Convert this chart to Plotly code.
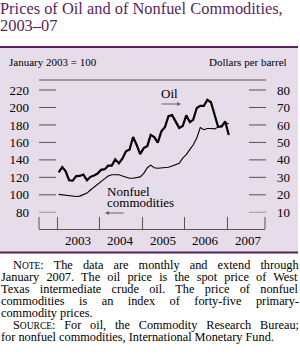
import plotly.graph_objects as go

# ---------------- data ----------------
years = [2003, 2004, 2005, 2006, 2007]
months = [(2003 + i // 12, i % 12 + 1) for i in range(49)]  # Jan 2003 .. Jan 2007

oil_dollars = [32.9, 35.9, 33.6, 28.3, 28.1, 30.7, 30.8, 31.6, 28.3, 30.3, 31.1, 32.2,
               34.3, 34.7, 36.7, 36.7, 40.3, 38.0, 40.7, 44.9, 45.9, 53.1, 48.5, 43.3,
               46.8, 48.0, 54.3, 53.0, 49.8, 56.3, 58.7, 65.0, 65.6, 62.4, 58.3, 59.4,
               65.5, 61.6, 62.9, 69.7, 70.9, 70.9, 74.4, 73.0, 65.0, 58.9, 59.1, 62.0,
               54.2]

nonfuel_index = [100.5, 100, 99.5, 99, 98, 98, 98.5, 100, 102, 105.5, 109, 112,
                 115, 118.5, 121.5, 123, 123, 123, 121.5, 120, 119, 119, 119.5, 120.5,
                 124.5, 131, 134, 131, 130.5, 131, 131, 131.5, 133, 134.5, 136, 142,
                 146, 152, 157, 165, 177, 174.5, 176, 176, 175.5, 177.5, 179.5, 183,
                 181]

left_ticks = [80, 100, 120, 140, 160, 180, 200, 220]
right_ticks = [10, 20, 30, 40, 50, 60, 70, 80]

title_lines = ["Prices of Oil and of Nonfuel Commodities,", "2003–07"]
# (small-cap lead, rest of line, indented, justified)
note_lines = [
    ("NOTE", ": The data are monthly and extend through", True, True),
    ("", "January 2007. The oil price is the spot price of West", False, True),
    ("", "Texas intermediate crude oil. The price of nonfuel", False, True),
    ("", "commodities is an index of forty-five primary-", False, True),
    ("", "commodity prices.", False, False),
    ("SOURCE", ": For oil, the Commodity Research Bureau;", True, True),
    ("", "for nonfuel commodities, International Monetary Fund.", False, False),
]

# ---------------- layout helpers ----------------
W, H = 300, 361
def px(x):
    return x / W
def py(y):
    return 1 - y / H

PURPLE = "#5a1f5e"
LAV = "#e6dcea"
SERIF = "Liberation Serif"

# Times metrics (per 1000 em) for estimating justification spacing
TW = {' ': 250, ',': 250, '-': 333, '.': 250, ':': 278, ';': 278, '(': 333, ')': 333}
for c in '0123456789':
    TW[c] = 500
TW.update(dict(A=722, B=667, C=667, D=722, E=611, F=556, G=722, H=722, I=333, J=389, K=722,
               L=611, M=889, N=722, O=722, P=556, Q=722, R=667, S=556, T=611, U=722, V=722,
               W=944, X=722, Y=722, Z=611))
TW.update(dict(a=444, b=500, c=444, d=500, e=444, f=333, g=500, h=500, i=278, j=278, k=500,
               l=278, m=778, n=500, o=500, p=500, q=500, r=333, s=389, t=278, u=500, v=500,
               w=722, x=500, y=500, z=444))

def text_w(s, size):
    return sum(TW.get(c, 500) for c in s) * size / 1000.0

NOTE_SIZE = 12.3
SC_SIZE = 9.5

dates = [f"{y}-{m:02d}-15" for (y, m) in months]

fig = go.Figure()
fig.add_trace(go.Scatter(x=dates, y=nonfuel_index, mode="lines",
                         line=dict(color="black", width=1.1), yaxis="y", showlegend=False))
fig.add_trace(go.Scatter(x=dates, y=oil_dollars, mode="lines",
                         line=dict(color="black", width=2.2), yaxis="y2", showlegend=False))

shapes = []
shapes.append(dict(type="rect", xref="paper", yref="paper", x0=px(0), x1=px(298),
                   y0=py(252), y1=py(47.5), fillcolor=LAV, line=dict(width=0), layer="below"))
shapes.append(dict(type="line", xref="paper", yref="paper", x0=px(0), x1=px(298),
                   y0=py(47), y1=py(47), line=dict(color=PURPLE, width=2)))
shapes.append(dict(type="line", xref="paper", yref="paper", x0=px(0), x1=px(298),
                   y0=py(252.5), y1=py(252.5), line=dict(color=PURPLE, width=2)))
shapes.append(dict(type="line", xref="paper", yref="paper", x0=px(39), x1=px(266),
                   y0=py(80), y1=py(80), line=dict(color="#555555", width=1)))
for v in left_ticks:
    shapes.append(dict(type="line", xref="paper", yref="y", x0=px(39), x1=px(56),
                       y0=v, y1=v, line=dict(color="#9a9a9a" if v == left_ticks[0] else "#555555", width=1)))
for v in right_ticks:
    shapes.append(dict(type="line", xref="paper", yref="y2", x0=px(249), x1=px(266),
                       y0=v, y1=v, line=dict(color="#9a9a9a" if v == right_ticks[0] else "#555555", width=1)))
for xe in [39, 265]:
    shapes.append(dict(type="line", xref="paper", yref="paper", x0=px(xe), x1=px(xe),
                       y0=py(229), y1=py(217), line=dict(color="#555555", width=1)))

ann = []
for i, t in enumerate(title_lines):
    ann.append(dict(text=t, x=px(-1), y=py(8 + 17 * i), xref="paper", yref="paper",
                    xanchor="left", yanchor="middle", showarrow=False, borderpad=0,
                    font=dict(family=SERIF, size=16.4, color=PURPLE)))
ann.append(dict(text="January 2003 = 100", x=px(7), y=py(62), xref="paper", yref="paper",
                xanchor="left", yanchor="middle", showarrow=False,
                font=dict(family=SERIF, size=11, color="black")))
ann.append(dict(text="Dollars per barrel", x=px(289), y=py(62), xref="paper", yref="paper",
                xanchor="right", yanchor="middle", showarrow=False,
                font=dict(family=SERIF, size=11, color="black")))
for yr in years:
    ann.append(dict(text=str(yr), x=f"{yr}-07-02", y=py(241), xref="x", yref="paper",
                    xanchor="center", yanchor="middle", showarrow=False,
                    font=dict(family=SERIF, size=13, color="black")))
ann.append(dict(text="Oil", x=px(159), y=py(94), xref="paper", yref="paper",
                xanchor="left", yanchor="middle", showarrow=False,
                font=dict(family=SERIF, size=13, color="black")))
ann.append(dict(text="", x=px(181), y=py(104), xref="paper", yref="paper",
                showarrow=True, ax=-21, ay=0, arrowhead=2, arrowsize=0.8, arrowwidth=1,
                arrowcolor="#666666"))
for j, t in enumerate(["Nonfuel", "commodities"]):
    ann.append(dict(text=t, x=px(106), y=py(191.5 + 11 * j), xref="paper", yref="paper",
                    xanchor="left", yanchor="middle", showarrow=False, borderpad=0,
                    font=dict(family=SERIF, size=13, color="black")))
ann.append(dict(text="", x=px(105), y=py(213), xref="paper", yref="paper",
                showarrow=True, ax=20, ay=0, arrowhead=2, arrowsize=0.8, arrowwidth=1,
                arrowcolor="#666666"))

for i, (sc, rest, indent, just) in enumerate(note_lines):
    x0 = 12 if indent else 0
    if sc:
        lead = sc[0] + f"<span style='font-size:{SC_SIZE}px'>{sc[1:]}</span>"
        w = text_w(sc[0], NOTE_SIZE) + text_w(sc[1:].upper(), SC_SIZE) + text_w(rest, NOTE_SIZE)
    else:
        lead = ""
        w = text_w(rest, NOTE_SIZE)
    body = lead + rest
    if just:
        nsp = (sc + rest).count(" ")
        extra = max(0.0, (298 - x0 - w) / nsp)
        body = f"<span style='word-spacing:{extra:.2f}px'>" + body.replace(
            f"<span style='font-size:{SC_SIZE}px'>", f"<span style='font-size:{SC_SIZE}px;word-spacing:{extra:.2f}px'>") + "</span>"
    ann.append(dict(text=body, x=px(x0), y=py(265 + i * 12.05),
                    xref="paper", yref="paper", xanchor="left", yanchor="middle",
                    showarrow=False, borderpad=0,
                    font=dict(family=SERIF, size=NOTE_SIZE, color="black")))

l_top = 220 + (90 - 80) / 0.8725
l_bot = 80 - (229 - 212.3) / 0.8725
fig.update_layout(
    width=W, height=H, margin=dict(l=0, r=0, t=0, b=0),
    paper_bgcolor="white", plot_bgcolor="rgba(0,0,0,0)",
    font=dict(family=SERIF, color="black"),
    showlegend=False,
    xaxis=dict(type="date", domain=[px(39), px(265)],
               range=["2002-07-30", "2007-11-22"],
               tickvals=[f"{y}-01-01" for y in years], ticktext=["" for _ in years],
               ticks="inside", ticklen=12, tickcolor="#555555", tickwidth=1,
               showline=True, linecolor="#555555", linewidth=1,
               showgrid=False, zeroline=False, fixedrange=True),
    yaxis=dict(domain=[py(229), py(80)], range=[l_bot, l_top],
               tickvals=left_ticks, ticks="", showgrid=False, zeroline=False,
               showline=False, ticklabelstandoff=9,
               tickfont=dict(family=SERIF, size=13, color="black")),
    yaxis2=dict(overlaying="y", side="right", anchor="x",
                range=[l_bot / 2 - 30, l_top / 2 - 30],
                tickvals=right_ticks, ticks="", showgrid=False, zeroline=False,
                showline=False, ticklabelstandoff=11,
                tickfont=dict(family=SERIF, size=13, color="black")),
    shapes=shapes, annotations=ann,
)

fig.write_html("out.html")
